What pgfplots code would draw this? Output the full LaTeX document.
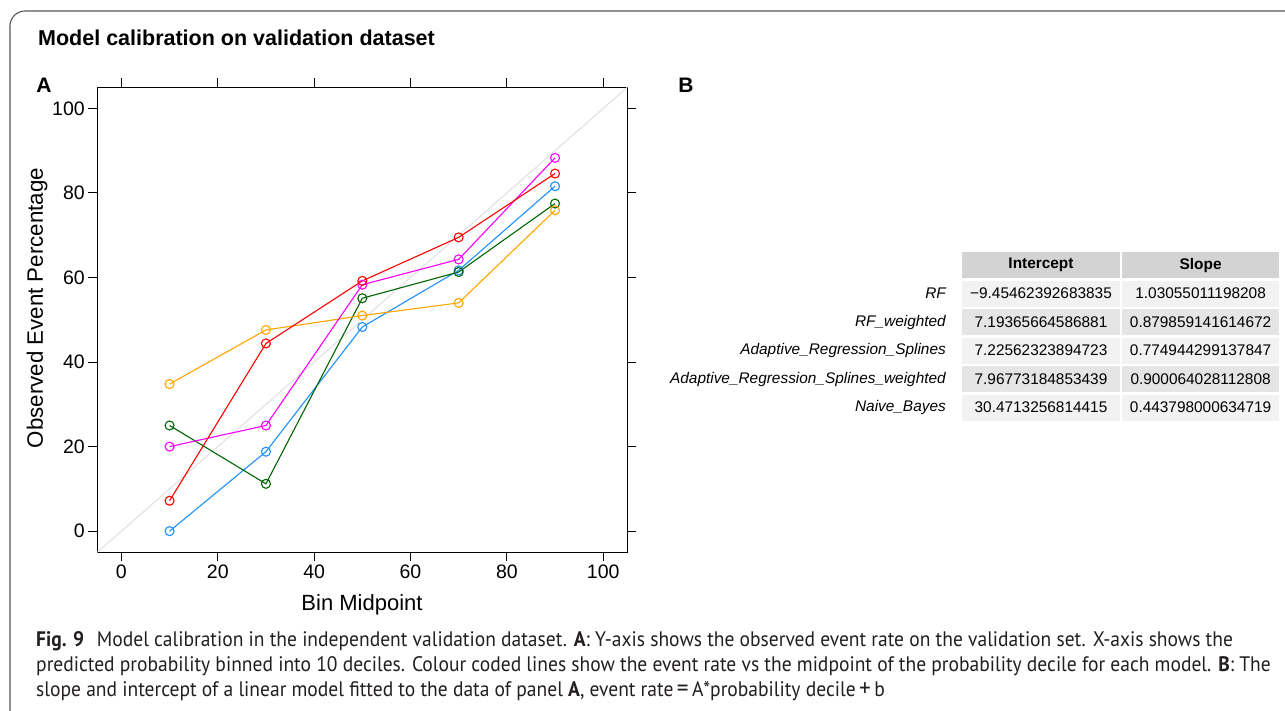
\documentclass[border=0pt]{standalone}
\usepackage{pgfplots}
\pgfplotsset{compat=1.18}
\usepackage{fontspec}
\setmainfont{Liberation Sans}
\newfontfamily\capfont[FakeStretch=0.93]{PT Sans}
\definecolor{cblue}{HTML}{1E90FF}
\definecolor{cgreen}{HTML}{006400}
\definecolor{corange}{HTML}{FFA500}
\definecolor{cmag}{HTML}{FF00FF}
\definecolor{cred}{HTML}{FF0000}
\definecolor{hdr}{HTML}{D3D3D3}
\definecolor{rowL}{HTML}{F2F2F2}
\definecolor{rowD}{HTML}{E5E5E5}
\definecolor{captxt}{HTML}{231F20}
\begin{document}
\begin{tikzpicture}
\begin{scope}[x=1pt,y=1pt]
\path[use as bounding box] (0,0) rectangle (1285,710);
\fill[white] (0,0) rectangle (1285,710);
\draw[color=black!65, line width=1.1pt] (10,-5) -- (10,684) arc[start angle=180,end angle=90,radius=15] -- (1295,699);
\node[anchor=base west, inner sep=0pt, font=\bfseries\fontsize{21.5}{21.5}\selectfont] at (38,664) {Model calibration on validation dataset};
\node[font=\bfseries\fontsize{21}{21}\selectfont] at (44,625) {A};
\node[font=\bfseries\fontsize{21}{21}\selectfont] at (686,625) {B};
% axis labels
\node[font=\fontsize{22}{22}\selectfont] at (362,105) {Bin Midpoint};
\node[font=\fontsize{22.3}{22.3}\selectfont, rotate=90] at (37,402) {Observed Event Percentage};
% table
\fill[hdr] (962,431.7) rectangle (1120,457.7);
\fill[hdr] (1122.3,431.7) rectangle (1279,457.7);
\foreach \r/\c in {0/rowL,1/rowD,2/rowL,3/rowD,4/rowL}{
  \fill[\c] (962,{429.3-28.5*\r}) rectangle (1120,{403.3-28.5*\r});
  \fill[\c] (1122.3,{429.3-28.5*\r}) rectangle (1279,{403.3-28.5*\r});
}
\begin{scope}[every node/.style={font=\fontsize{15.4}{15.4}\selectfont, inner sep=0pt}]
\node[font=\bfseries\fontsize{15.4}{15.4}\selectfont] at (1041,444.7) {Intercept};
\node[font=\bfseries\fontsize{15.4}{15.4}\selectfont] at (1200.6,444.7) {Slope};
\node[anchor=east, font=\itshape\fontsize{15.4}{15.4}\selectfont] at (946,416.3) {RF};
\node[anchor=east, font=\itshape\fontsize{15.4}{15.4}\selectfont] at (946,387.8) {RF\_weighted};
\node[anchor=east, font=\itshape\fontsize{15.4}{15.4}\selectfont] at (946,359.3) {Adaptive\_Regression\_Splines};
\node[anchor=east, font=\itshape\fontsize{15.4}{15.4}\selectfont] at (946,330.8) {Adaptive\_Regression\_Splines\_weighted};
\node[anchor=east, font=\itshape\fontsize{15.4}{15.4}\selectfont] at (946,302.3) {Naive\_Bayes};
\node at (1041,416.3) {−9.45462392683835};
\node at (1041,387.8) {7.19365664586881};
\node at (1041,359.3) {7.22562323894723};
\node at (1041,330.8) {7.96773184853439};
\node at (1041,302.3) {30.4713256814415};
\node at (1200.6,416.3) {1.03055011198208};
\node at (1200.6,387.8) {0.879859141614672};
\node at (1200.6,359.3) {0.774944299137847};
\node at (1200.6,330.8) {0.900064028112808};
\node at (1200.6,302.3) {0.443798000634719};
\end{scope}
% caption
\begin{scope}[every node/.style={anchor=base west, inner sep=0pt, text=captxt, font=\capfont\fontsize{21}{21}\selectfont}]
\node at (36,64) {\textbf{Fig. 9}\hspace{0.6em}Model calibration in the independent validation dataset. \textbf{A}: Y-axis shows the observed event rate on the validation set. X-axis shows the};
\node at (36,39) {predicted probability binned into 10 deciles. Colour coded lines show the event rate vs the midpoint of the probability decile for each model. \textbf{B}: The};
\node at (36,14) {slope and intercept of a linear model fitted to the data of panel \textbf{A}, event rate\,{\fontsize{25}{25}\selectfont=}\,A*probability decile\,{\fontsize{25}{25}\selectfont+}\,b};
\end{scope}
\end{scope}
\begin{axis}[
  at={(97.3pt,157.7pt)}, anchor=south west,
  scale only axis, width=530pt, height=465pt,
  xmin=-5, xmax=105, ymin=-5, ymax=105,
  xtick={0,20,...,100}, ytick={0,20,...,100},
  tick align=outside, major tick length=9pt,
  tick style={black, line width=1pt},
  axis line style={black, line width=1.3pt},
  ticklabel style={font=\fontsize{19.5}{19.5}\selectfont, text=black},
  /pgf/number format/assume math mode=true,
]
\addplot[color=black!12, line width=1pt] coordinates {(-5,-5) (105,105)};
\pgfplotsset{every axis plot/.append style={line width=1.1pt, mark=o, mark size=4.5pt, mark options={solid, line width=1.1pt}}}
\addplot[color=cblue] coordinates {(10,0) (30,18.8) (50,48.3) (70,61.7) (90,81.6)};
\addplot[color=cgreen] coordinates {(10,25.0) (30,11.2) (50,55.1) (70,61.3) (90,77.5)};
\addplot[color=corange] coordinates {(10,34.8) (30,47.6) (50,51.0) (70,54.0) (90,75.9)};
\addplot[color=cmag] coordinates {(10,20.0) (30,25.0) (50,58.3) (70,64.3) (90,88.3)};
\addplot[color=cred] coordinates {(10,7.2) (30,44.4) (50,59.2) (70,69.5) (90,84.6)};
\end{axis}
\end{tikzpicture}
\end{document}
